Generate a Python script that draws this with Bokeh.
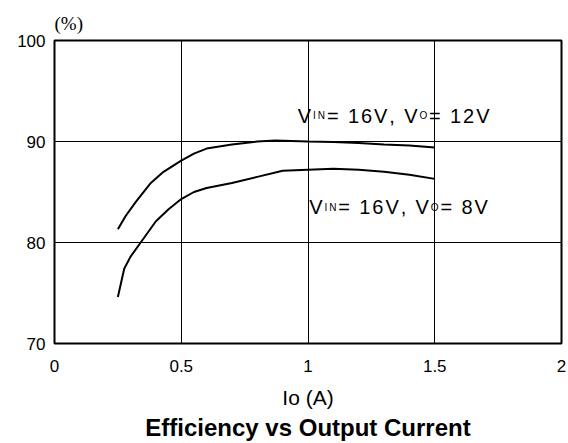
from bokeh.plotting import figure
from bokeh.models import Label, FixedTicker, NumeralTickFormatter, Title
from bokeh.embed import file_html
from bokeh.resources import INLINE

# ---- data ----
io_12v = [0.25, 0.28, 0.32, 0.38, 0.43, 0.50, 0.55, 0.60, 0.70, 0.80, 0.87, 1.00, 1.10, 1.20, 1.30, 1.40, 1.50]
eff_12v = [81.3, 82.6, 84.0, 85.9, 87.0, 88.1, 88.8, 89.3, 89.7, 90.0, 90.1, 90.0, 89.95, 89.85, 89.7, 89.6, 89.4]

io_8v = [0.25, 0.275, 0.30, 0.34, 0.40, 0.45, 0.50, 0.55, 0.60, 0.70, 0.80, 0.90, 1.00, 1.10, 1.20, 1.30, 1.40, 1.50]
eff_8v = [74.6, 77.4, 78.6, 80.0, 82.1, 83.3, 84.3, 85.0, 85.4, 85.9, 86.5, 87.1, 87.2, 87.3, 87.2, 87.0, 86.7, 86.3]

x_ticks = [0, 0.5, 1, 1.5, 2]
x_tick_labels = ["0", "0.5", "1", "1.5", "2"]
y_ticks = [70, 80, 90, 100]
y_tick_labels = ["70", "80", "90", "100"]

x_title = "Io (A)"
y_unit = "(%)"
chart_title = "Efficiency vs Output Current"

FONT = "Liberation Sans"

p = figure(width=566, height=441, x_range=(0, 2), y_range=(70, 100),
           output_backend="svg", toolbar_location=None,
           min_border_left=54, min_border_top=40, min_border_bottom=96, min_border_right=5)

p.background_fill_color = "white"
p.border_fill_color = "white"
p.outline_line_color = "black"
p.outline_line_width = 2

for ax, ticks, labels in ((p.xaxis[0], x_ticks, x_tick_labels), (p.yaxis[0], y_ticks, y_tick_labels)):
    ax.ticker = FixedTicker(ticks=ticks)
    ax.major_label_overrides = {t: l for t, l in zip(ticks, labels)}
    ax.axis_line_color = None
    ax.major_tick_line_color = None
    ax.minor_tick_line_color = None
    ax.major_tick_in = 0
    ax.major_tick_out = 0
    ax.major_label_text_font = FONT
    ax.major_label_text_font_size = "17px"
    ax.major_label_text_color = "black"

p.xaxis[0].formatter = NumeralTickFormatter(format="0.[0]")
p.xaxis[0].major_label_standoff = 16
p.yaxis[0].major_label_standoff = 9

p.xaxis[0].axis_label = x_title
p.xaxis[0].axis_label_text_font = FONT
p.xaxis[0].axis_label_text_font_size = "21px"
p.xaxis[0].axis_label_text_font_style = "normal"
p.xaxis[0].axis_label_text_color = "black"
p.xaxis[0].axis_label_standoff = 11

for g in (p.xgrid[0], p.ygrid[0]):
    g.grid_line_color = "black"
    g.grid_line_width = 1
    g.grid_line_alpha = 1.0

p.line(io_12v, eff_12v, line_color="black", line_width=2)
p.line(io_8v, eff_8v, line_color="black", line_width=2)

# ---- curve labels with subscripts, letter-spaced ----
W = {"V": 0.667, "I": 0.278, "N": 0.722, "=": 0.584, " ": 0.278, "1": 0.556,
     "2": 0.556, "6": 0.556, "8": 0.556, ",": 0.278, "O": 0.778}
SP = 1.9
MAIN = 20
SUB = 10


def spaced_label(x, y, parts):
    items = []
    off = 0.0
    for text, size in parts:
        for ch in text:
            items.append((ch, size, off))
            off += W[ch] * size + SP
    for ch, size, o in items:
        p.add_layout(Label(x=x, y=y, x_offset=o, text=ch, text_font=FONT,
                           text_font_size=f"{MAIN}px", text_alpha=0,
                           text_baseline="alphabetic", text_align="left",
                           background_fill_color="white", padding=4))
    for ch, size, o in items:
        if ch == " ":
            continue
        p.add_layout(Label(x=x, y=y, x_offset=o, text=ch, text_font=FONT,
                           text_font_size=f"{size}px", text_color="black",
                           text_baseline="alphabetic", text_align="left"))


spaced_label(0.96, 92.55, [("V", MAIN), ("IN", SUB), ("= 16V, V", MAIN), ("O", SUB), ("= 12V", MAIN)])
spaced_label(1.005, 83.5, [("V", MAIN), ("IN", SUB), ("= 16V, V", MAIN), ("O", SUB), ("= 8V", MAIN)])

# ---- unit above the plot and chart title below ----
p.add_layout(Title(text=y_unit, align="left", text_font="Liberation Serif",
                   text_font_size="19px", text_font_style="normal", text_color="black",
                   standoff=13), "above")
p.add_layout(Title(text=chart_title, align="center", text_font=FONT,
                   text_font_size="24px", text_font_style="bold", text_color="black",
                   standoff=1), "below")

open("out.html", "w").write(file_html(p, INLINE))
